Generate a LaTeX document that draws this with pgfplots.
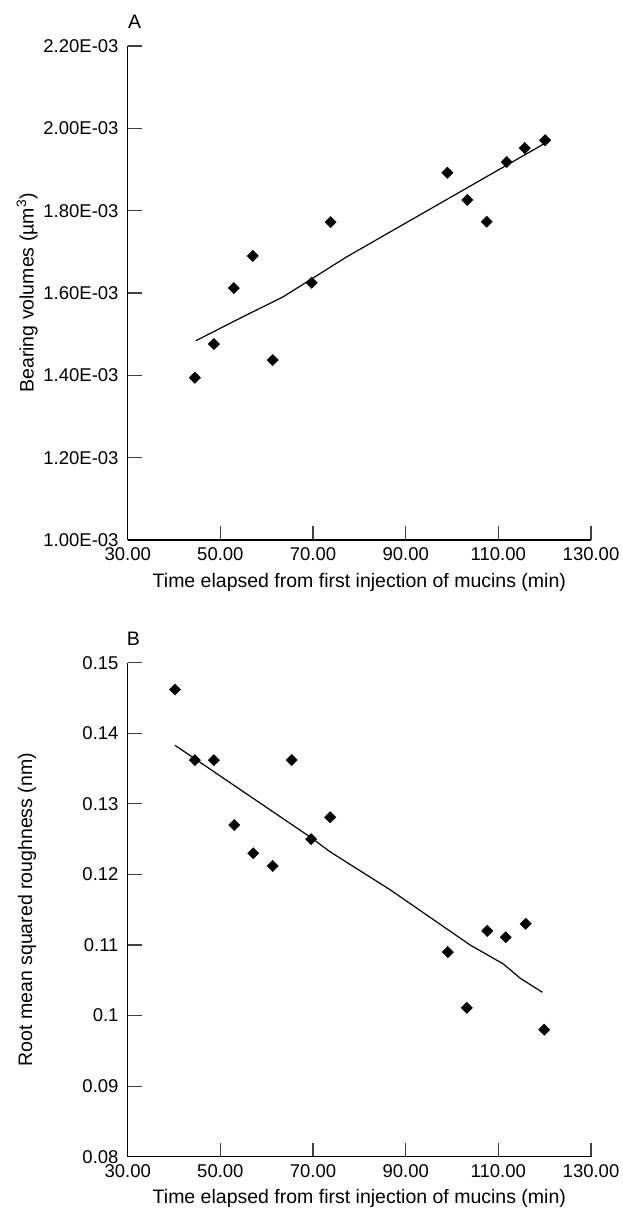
\documentclass[border=0pt]{standalone}
\usepackage{fontspec}
\setmainfont{Liberation Sans}
\usepackage{pgfplots}
\pgfplotsset{compat=1.18}
\begin{document}
\begin{tikzpicture}
\path[use as bounding box] (0pt,0pt) rectangle (623pt,1212pt);
\pgfplotsset{
 mystyle/.style={
  scale only axis, width=463.3pt, height=494pt,
  axis lines*=left, axis line style={black, line width=1.3pt},
  tick align=inside, major tick length=14pt,
  tick style={black!75, line width=1.2pt},
  xmin=30, xmax=130, xtick={30,50,70,90,110,130},
  xticklabels={30.00,50.00,70.00,90.00,110.00,130.00},
  scaled y ticks=false, scaled x ticks=false,
  tick label style={font=\fontsize{18.5}{20}\selectfont, inner sep=0pt},
  xticklabel style={anchor=north, yshift=-7.7pt},
  yticklabel style={anchor=east, xshift=-9pt},
  label style={font=\fontsize{19.5}{22}\selectfont},
  xlabel={Time elapsed from first injection of mucins (min)},
  xlabel style={at={(axis description cs:0.5,-0.085)}, anchor=center},
  ylabel style={at={(axis description cs:-0.217,0.5)}, anchor=center},
  clip=false,
 },
 pts/.style={only marks, mark=square*, mark size=4pt, mark options={rotate=45, fill=black, draw=black}},
 fit/.style={no marks, black, line width=1.2pt},
}
% Panel A
\begin{axis}[mystyle, at={(127.7pt,672pt)}, anchor=south west,
  ymin=0.0010, ymax=0.0022,
  ytick={0.0010,0.0012,0.0014,0.0016,0.0018,0.0020,0.0022},
  yticklabels={1.00E-03,1.20E-03,1.40E-03,1.60E-03,1.80E-03,2.00E-03,2.20E-03},
  ylabel={Bearing volumes (µm\textsuperscript{3})}]
\addplot[pts] coordinates {
 (44.5,0.001394) (48.6,0.001476) (52.9,0.001612) (57.0,0.001690)
 (61.3,0.001437) (69.7,0.001625) (73.8,0.001772) (99.0,0.001892)
 (103.3,0.001826) (107.5,0.001773) (111.8,0.001918) (115.7,0.001952)
 (120.1,0.001971)};
\addplot[fit] coordinates {
 (44.7,0.001484) (54.3,0.001539) (63.6,0.001591) (77.3,0.001688) (120.1,0.001964)};
\node[font=\fontsize{19.5}{22}\selectfont] at (axis description cs:0.015,1.0486) {A};
\end{axis}
% Panel B
\begin{axis}[mystyle, at={(127.7pt,55.3pt)}, anchor=south west,
  ymin=0.08, ymax=0.15,
  ytick={0.08,0.09,0.10,0.11,0.12,0.13,0.14,0.15},
  yticklabels={0.08,0.09,0.1,0.11,0.12,0.13,0.14,0.15},
  ylabel={Root mean squared roughness (nm)}]
\addplot[pts] coordinates {
 (40.2,0.1462) (44.5,0.1362) (48.6,0.1362) (53.0,0.1270) (57.1,0.1230)
 (61.3,0.1212) (65.4,0.1362) (69.6,0.1250) (73.7,0.1281) (99.1,0.1090)
 (103.2,0.1011) (107.6,0.1120) (111.6,0.1111) (115.9,0.1130) (119.9,0.0980)};
\addplot[fit] coordinates {
 (40.2,0.1383) (69.6,0.1252) (73.7,0.1232) (86.7,0.1178) (103.9,0.1100)
 (111.1,0.1073) (114.7,0.1053) (119.5,0.1033)};
\node[font=\fontsize{19.5}{22}\selectfont] at (axis description cs:0.012,1.0486) {B};
\end{axis}
\end{tikzpicture}
\end{document}
